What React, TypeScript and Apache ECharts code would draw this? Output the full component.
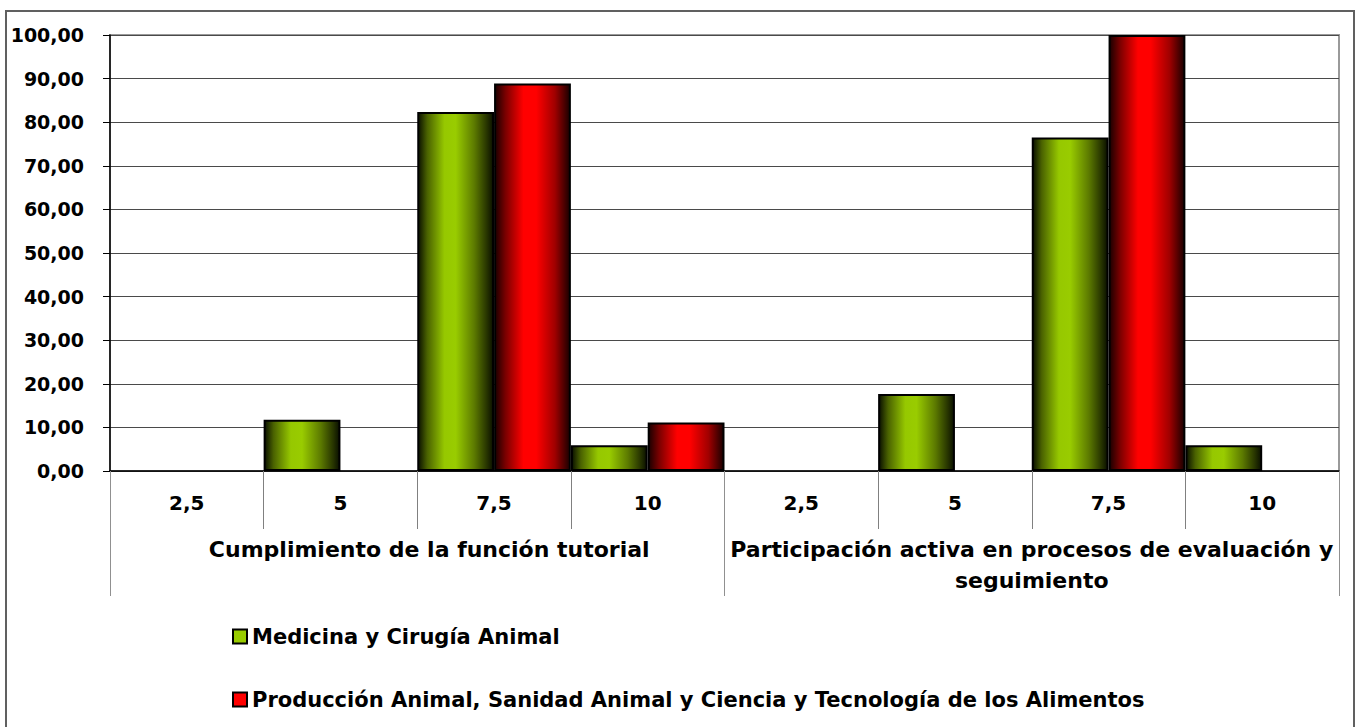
import React, { useEffect, useRef } from "react";
import * as echarts from "echarts";

const scoreLabels = ["2,5", "5", "7,5", "10", "2,5", "5", "7,5", "10"];
const groupLabels = [
  "Cumplimiento de la función tutorial",
  "Participación activa en procesos de evaluación y\nseguimiento",
];
const yTicks = [0, 10, 20, 30, 40, 50, 60, 70, 80, 90, 100];
const medicina = [0, 11.76, 82.35, 5.88, 0, 17.65, 76.47, 5.88];
const produccion = [0, 0, 88.89, 11.11, 0, 0, 100, 0];
const seriesNames = [
  "Medicina y Cirugía Animal",
  "Producción Animal, Sanidad Animal y Ciencia y Tecnología de los Alimentos",
];

const FONT = "'DejaVu Sans', Arial, sans-serif";

function grad(stops: [number, string][]) {
  return new echarts.graphic.LinearGradient(
    0,
    0,
    1,
    0,
    stops.map(([offset, color]) => ({ offset, color }))
  );
}

export default function App() {
  const ref = useRef<HTMLDivElement>(null);
  useEffect(() => {
    document.body.style.margin = "0";
    const chart = echarts.init(ref.current!, null, { renderer: "svg" });
    const green = grad([
      [0, "#0a1000"],
      [0.12, "#4a6200"],
      [0.35, "#96c800"],
      [0.5, "#99cc00"],
      [0.75, "#5c7a00"],
      [0.92, "#263300"],
      [1, "#0a1000"],
    ]);
    const red = grad([
      [0, "#1a0000"],
      [0.14, "#7a0000"],
      [0.38, "#ff0000"],
      [0.55, "#ff0000"],
      [0.8, "#a00000"],
      [1, "#1a0000"],
    ]);
    const idx = scoreLabels.map((_, i) => String(i));
    chart.setOption({
      animation: false,
      backgroundColor: "#ffffff",
      textStyle: { fontFamily: FONT },
      grid: {
        left: 110,
        right: 18,
        top: 35,
        bottom: 256,
        show: true,
        borderColor: "#9a9a9a",
        borderWidth: 2,
        backgroundColor: "#ffffff",
      },
      legend: {
        orient: "vertical",
        left: 232,
        top: 626,
        padding: 0,
        itemWidth: 14,
        itemHeight: 14,
        itemGap: 42,
        icon: "rect",
        textStyle: {
          fontFamily: FONT,
          fontWeight: "bold",
          fontSize: 21,
          color: "#000",
        },
        data: [
          {
            name: seriesNames[0],
            itemStyle: { color: "#99cc00", borderColor: "#000", borderWidth: 2 },
          },
          {
            name: seriesNames[1],
            itemStyle: { color: "#ff0000", borderColor: "#000", borderWidth: 2 },
          },
        ],
      },
      xAxis: [
        {
          type: "category",
          data: idx,
          position: "bottom",
          axisLine: { show: true, lineStyle: { color: "#000", width: 1.5 } },
          axisTick: {
            show: true,
            interval: 0,
            length: 58,
            lineStyle: { color: "#808080", width: 1 },
          },
          axisLabel: {
            interval: 0,
            margin: 22,
            formatter: (_v: string, i: number) => scoreLabels[i],
            fontFamily: FONT,
            fontWeight: "bold",
            fontSize: 20,
            color: "#000",
          },
          splitLine: { show: false },
        },
        {
          type: "category",
          data: [
            { value: groupLabels[0], textStyle: { padding: [0, 0, 0, 24] } },
            { value: groupLabels[1] },
          ],
          position: "bottom",
          axisLine: { show: false },
          axisTick: {
            show: true,
            interval: 0,
            length: 125,
            lineStyle: { color: "#909090", width: 1 },
          },
          axisLabel: {
            interval: 0,
            margin: 63,
            lineHeight: 31,
            fontFamily: FONT,
            fontWeight: "bold",
            fontSize: 22,
            color: "#000",
            align: "center",
          },
          splitLine: { show: false },
        },
      ],
      yAxis: {
        type: "value",
        min: yTicks[0],
        max: yTicks[yTicks.length - 1],
        interval: 10,
        axisLine: { show: true, lineStyle: { color: "#000", width: 1.5 } },
        axisTick: { show: true, length: 7, lineStyle: { color: "#000" } },
        axisLabel: {
          margin: 26,
          formatter: (v: number) => v.toFixed(2).replace(".", ","),
          fontFamily: FONT,
          fontWeight: "bold",
          fontSize: 19,
          color: "#000",
        },
        splitLine: { show: true, lineStyle: { color: "#4a4a4a", width: 1 } },
      },
      series: [
        {
          name: seriesNames[0],
          type: "bar",
          xAxisIndex: 0,
          data: medicina.map((v) => (v === 0 ? null : v)),
          barGap: "0%",
          barCategoryGap: "0%",
          itemStyle: { color: green, borderColor: "#000", borderWidth: 2 },
        },
        {
          name: seriesNames[1],
          type: "bar",
          xAxisIndex: 0,
          data: produccion.map((v) => (v === 0 ? null : v)),
          barGap: "0%",
          barCategoryGap: "0%",
          itemStyle: { color: red, borderColor: "#000", borderWidth: 2 },
        },
      ],
      graphic: [
        {
          type: "rect",
          shape: { x: 6, y: 11, width: 1348, height: 800 },
          style: { fill: "none", stroke: "#606060", lineWidth: 2 },
          silent: true,
        },
      ],
    });
    return () => chart.dispose();
  }, []);
  return (
    <div
      ref={ref}
      style={{ position: "fixed", left: 0, top: 0, width: 1357, height: 727 }}
    />
  );
}
